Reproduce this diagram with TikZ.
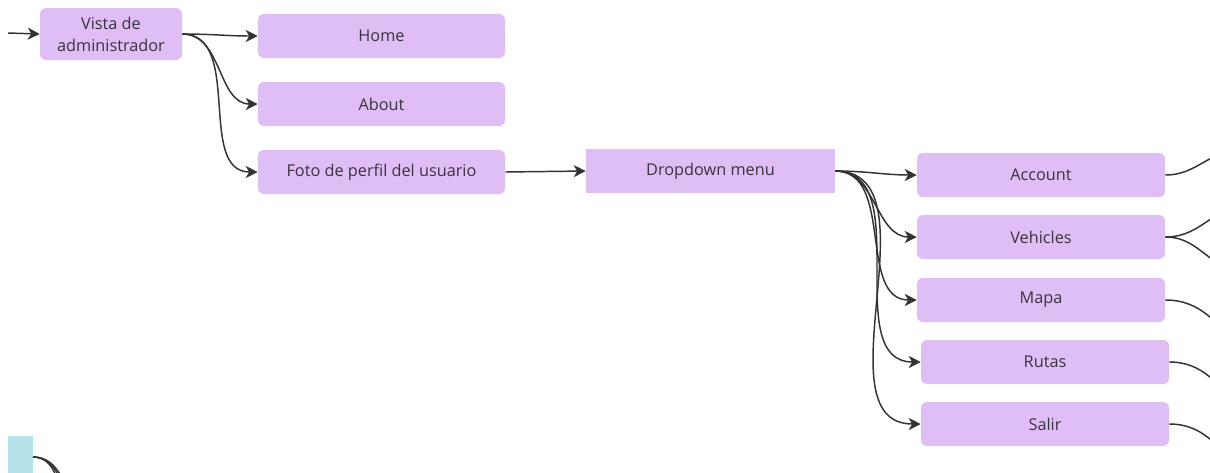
\documentclass[tikz,border=0pt]{standalone}
\usepackage{fontspec}
\setmainfont{Open Sans}
\usetikzlibrary{arrows.meta}
\definecolor{boxc}{HTML}{DFBEF5}
\definecolor{cyanc}{HTML}{B6E2EA}
\definecolor{txt}{HTML}{3A3340}
\definecolor{linec}{HTML}{333333}
\tikzset{
  pbox/.style={fill=boxc, draw=none, text=txt, font=\fontsize{12.2}{16.5}\selectfont, align=center, inner sep=0pt, rounded corners=4.5pt},
  wide/.style={minimum width=185.25pt, minimum height=33pt},
  conn/.style={draw=linec, line width=1.1pt, -{Stealth[length=9pt,width=9pt,inset=2.6pt]}},
  plain/.style={draw=linec, line width=1.1pt},
}
\begin{document}
\begin{tikzpicture}[x=0.75pt,y=-0.75pt]
\useasboundingbox (0,0) rectangle (1210,472);
\clip (0,0) rectangle (1210,472);
\fill[white] (0,0) rectangle (1210,472);
% nodes
\node[pbox, minimum width=106.5pt, minimum height=39pt] (vista) at (111,34) {Vista de\\administrador};
\node[pbox, wide] (home) at (381.5,36) {Home};
\node[pbox, wide] (about) at (381.5,104) {About};
\node[pbox, wide] (foto) at (381.5,172) {Foto de perfil del usuario};
\node[pbox, wide, rounded corners=0pt, minimum width=186.75pt] (drop) at (710.5,171) {Dropdown menu};
\node[pbox, wide, minimum width=186pt] (account) at (1041,175) {Account};
\node[pbox, wide, minimum width=186pt] (vehicles) at (1041,237) {Vehicles};
\node[pbox, wide, minimum width=186pt] (mapa) at (1041,300) {Mapa};
\node[pbox, wide, minimum width=186pt] (rutas) at (1045,362) {Rutas};
\node[pbox, wide, minimum width=186pt] (salir) at (1045,424) {Salir};
\node[fill=cyanc, inner sep=0pt, minimum width=18.75pt, minimum height=36pt, anchor=north west] (cy) at (8,436) {};
% free ends
\coordinate (in0) at (8,33);
\coordinate (acc1) at (1225,152);
\coordinate (veh1) at (1225,210);
\coordinate (veh2) at (1225,268);
\coordinate (map1) at (1240,350);
\coordinate (rut1) at (1240,410);
\coordinate (sal1) at (1240,472);
\coordinate (cys) at (33,457);
\coordinate (cy1) at (62,500);
\coordinate (cy2) at (68,500);
\coordinate (cy3) at (74,500);
% connectors
\draw[conn] (in0) -- (vista.west);
\draw[conn] (vista.east) to[out=0,in=180] (home.west);
\draw[conn] (vista.east) to[out=0,in=180] (about.west);
\draw[conn] (vista.east) to[out=0,in=180] (foto.west);
\draw[conn] (foto.east) -- (drop.west);
\draw[conn] (drop.east) to[out=0,in=180] (account.west);
\draw[conn] (drop.east) to[out=0,in=180] (vehicles.west);
\draw[conn] (drop.east) to[out=0,in=180] (mapa.west);
\draw[conn] (drop.east) to[out=0,in=180] (rutas.west);
\draw[conn] (drop.east) to[out=0,in=180] (salir.west);
\draw[plain] (account.east) to[out=0,in=200] (acc1);
\draw[plain] (vehicles.east) to[out=0,in=210] (veh1);
\draw[plain] (vehicles.east) to[out=0,in=150] (veh2);
\draw[plain] (mapa.east) to[out=0,in=130] (map1);
\draw[plain] (rutas.east) to[out=0,in=130] (rut1);
\draw[plain] (salir.east) to[out=0,in=130] (sal1);
\draw[plain] (cys) to[out=0,in=100] (cy1);
\draw[plain] (cys) to[out=0,in=110] (cy2);
\draw[plain] (cys) to[out=0,in=120] (cy3);
\end{tikzpicture}
\end{document}
